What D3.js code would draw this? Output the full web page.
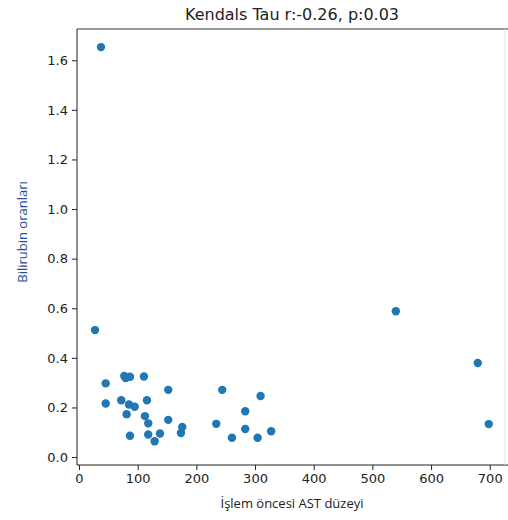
<!DOCTYPE html>
<html lang="en">
<head>
    <meta charset="UTF-8">
    <title>Kendals Tau</title>
    <script src="https://cdn.jsdelivr.net/npm/d3@7"></script>
    <style>
        body { margin: 0; background: #fff; }
        svg { display: block; }
        .tick text { font-family: "DejaVu Sans", sans-serif; font-size: 13px; fill: #222; }
    </style>
</head>
<body>
<div id="chart"></div>
<script>
    // AST values (x) and bilirubin values (y)
    const astLevels = [37.5, 27.3, 45.5, 45.5, 77.2, 79.5, 86.9, 110.7, 152.1, 72.0,
        85.2, 94.9, 115.8, 81.2, 112.4, 118.0, 152.1, 176.0, 173.7, 86.9,
        118.0, 138.0, 128.9, 244.1, 309.5, 283.3, 233.9, 283.3, 260.6, 304.4,
        327.5, 540.0, 679.6, 698.3];
    const bilirubin = [1.653, 0.512, 0.297, 0.216, 0.327, 0.319, 0.324, 0.325, 0.271, 0.229,
        0.212, 0.203, 0.229, 0.173, 0.165, 0.136, 0.150, 0.121, 0.097, 0.086,
        0.091, 0.095, 0.064, 0.271, 0.246, 0.185, 0.134, 0.113, 0.078, 0.078,
        0.104, 0.588, 0.379, 0.133];
    const xTicks = [0, 100, 200, 300, 400, 500, 600, 700];
    const yTicks = [0.0, 0.2, 0.4, 0.6, 0.8, 1.0, 1.2, 1.4, 1.6];

    const width = 508, height = 520;
    const margin = { top: 29, right: 3, bottom: 55, left: 77 };
    const plotW = width - margin.left - margin.right;
    const plotH = height - margin.top - margin.bottom;

    const svg = d3.select("#chart").append("svg")
        .attr("width", width)
        .attr("height", height);

    const g = svg.append("g")
        .attr("transform", `translate(${margin.left},${margin.top})`);

    const x = d3.scaleLinear().domain([-3.4, 726]).range([0, plotW]);
    const y = d3.scaleLinear().domain([-0.032, 1.726]).range([plotH, 0]);

    const data = astLevels.map((v, i) => ({ ast: v, bil: bilirubin[i] }));

    g.selectAll("circle")
        .data(data)
        .join("circle")
        .attr("cx", d => x(d.ast))
        .attr("cy", d => y(d.bil))
        .attr("r", 4.2)
        .attr("fill", "#1f77b4");

    const xAxis = g.append("g")
        .attr("transform", `translate(0,${plotH})`)
        .call(d3.axisBottom(x).tickValues(xTicks).tickFormat(d3.format("d")).tickSize(5).tickPadding(4));

    const yAxis = g.append("g")
        .call(d3.axisLeft(y).tickValues(yTicks).tickFormat(d3.format(".1f")).tickSize(5).tickPadding(4));

    [xAxis, yAxis].forEach(a => {
        a.select(".domain").remove();
        a.selectAll(".tick line").attr("stroke", "#222");
    });

    // frame: left, bottom and top dark; right edge faint (cut off in the picture)
    g.append("line").attr("x1", 0).attr("x2", plotW + margin.right).attr("y1", 0).attr("y2", 0)
        .attr("stroke", "#333");
    g.append("line").attr("x1", 0).attr("x2", plotW + margin.right).attr("y1", plotH).attr("y2", plotH)
        .attr("stroke", "#222");
    g.append("line").attr("x1", 0).attr("x2", 0).attr("y1", 0).attr("y2", plotH)
        .attr("stroke", "#222");
    g.append("line").attr("x1", plotW).attr("x2", plotW).attr("y1", 0).attr("y2", plotH)
        .attr("stroke", "#e4e4e4");

    svg.append("text")
        .attr("x", 292)
        .attr("y", 20)
        .attr("text-anchor", "middle")
        .attr("font-family", "DejaVu Sans, sans-serif")
        .attr("font-size", 16)
        .attr("fill", "#222")
        .text("Kendals Tau r:-0.26, p:0.03");

    svg.append("text")
        .attr("x", 292)
        .attr("y", 508)
        .attr("text-anchor", "middle")
        .attr("font-family", "Open Sans, sans-serif")
        .attr("font-size", 13)
        .attr("fill", "#222")
        .text("İşlem öncesi AST düzeyi");

    svg.append("text")
        .attr("transform", "translate(27,232) rotate(-90)")
        .attr("text-anchor", "middle")
        .attr("font-family", "Open Sans, sans-serif")
        .attr("font-size", 13)
        .attr("fill", "#1f4e9a")
        .text("Bilirubin oranları");
</script>
</body>
</html>
